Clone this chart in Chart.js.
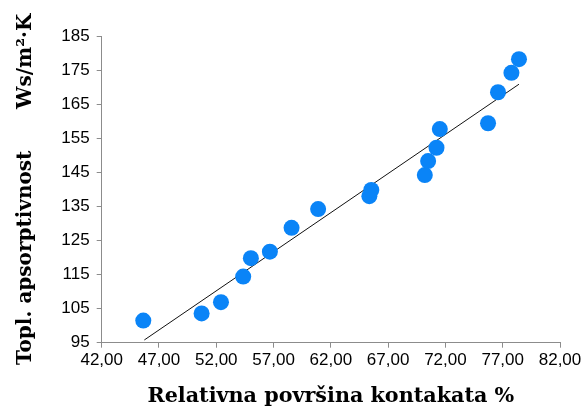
<!DOCTYPE html>
<html>
<head>
<meta charset="utf-8">
<script src="https://cdn.jsdelivr.net/npm/chart.js@4/dist/chart.umd.min.js"></script>
<style>
  html, body { margin: 0; padding: 0; background: #fff; }
  canvas { display: block; }
</style>
</head>
<body>
<canvas id="chart" width="584" height="407"></canvas>
<script>
// Relative contact surface (%) and thermal absorptivity (Ws/m²·K) per sample
const contactArea = [45.63, 50.72, 52.41, 54.35, 55.02, 56.68, 58.57, 60.89, 65.36, 65.53,
                     70.20, 70.49, 71.22, 71.51, 75.72, 76.59, 77.76, 78.42];
const absorptivity = [101.5, 103.6, 106.9, 114.4, 119.8, 121.7, 128.7, 134.2, 138.0, 139.8,
                      144.2, 148.3, 152.2, 157.7, 159.4, 168.5, 174.2, 178.2];

// Linear trend line end points
const trendX = [45.72, 78.42];
const trendY = [95.8, 170.85];

// Axis ticks
const xTickValues = [42, 47, 52, 57, 62, 67, 72, 77, 82];
const yTickValues = [95, 105, 115, 125, 135, 145, 155, 165, 175, 185];

const xTitle = 'Relativna površina kontakata %';
const yTitle = 'Topl. apsorptivnost      Ws/m\u00B2\u00B7K';

const axisGray = '#8c8c8c';
const tickFont = { family: "'Liberation Sans', Arial, sans-serif", size: 17 };
const serifBold = "'DejaVu Serif', 'Liberation Serif', serif";
const xTitleFont = { family: serifBold, size: 20.7, weight: 'bold', lineHeight: 1 };
const yTitleFont = { family: serifBold, size: 20, weight: 'bold', lineHeight: 1 };

const points = contactArea.map((x, i) => ({ x, y: absorptivity[i] }));
const trend = trendX.map((x, i) => ({ x, y: trendY[i] }));

new Chart(document.getElementById('chart'), {
  type: 'scatter',
  data: {
    datasets: [
      {
        data: points,
        backgroundColor: '#0a84f7',
        borderWidth: 0,
        pointRadius: 8,
        pointHoverRadius: 8
      },
      {
        type: 'line',
        data: trend,
        borderColor: '#111',
        borderWidth: 1,
        pointRadius: 0,
        fill: false
      }
    ]
  },
  options: {
    responsive: false,
    devicePixelRatio: 1,
    animation: false,
    events: [],
    layout: { padding: { top: 36, right: 24, left: 0, bottom: 0 } },
    plugins: {
      legend: { display: false },
      tooltip: { enabled: false }
    },
    scales: {
      x: {
        type: 'linear',
        min: 42,
        max: 82,
        afterBuildTicks: s => { s.ticks = xTickValues.map(v => ({ value: v })); },
        afterFit: s => { s.height = 64.3; },
        border: { display: true, color: axisGray, width: 1 },
        grid: { drawOnChartArea: false, drawTicks: true, tickLength: 5, color: axisGray },
        ticks: {
          font: tickFont,
          color: '#000',
          padding: 2,
          maxRotation: 0,
          callback: v => v.toFixed(2).replace('.', ',')
        },
        title: {
          display: true,
          text: xTitle,
          font: xTitleFont,
          color: '#000',
          padding: { top: 0, bottom: 0 }
        }
      },
      y: {
        type: 'linear',
        min: 95,
        max: 185,
        afterBuildTicks: s => { s.ticks = yTickValues.map(v => ({ value: v })); },
        afterFit: s => { s.width = 101.7; },
        border: { display: true, color: axisGray, width: 1 },
        grid: { drawOnChartArea: false, drawTicks: true, tickLength: 5, color: axisGray },
        ticks: {
          font: tickFont,
          color: '#000',
          padding: 7
        },
        title: {
          display: true,
          text: yTitle,
          font: yTitleFont,
          color: '#000',
          padding: { top: 16, bottom: 0 }
        }
      }
    }
  }
});
</script>
</body>
</html>
